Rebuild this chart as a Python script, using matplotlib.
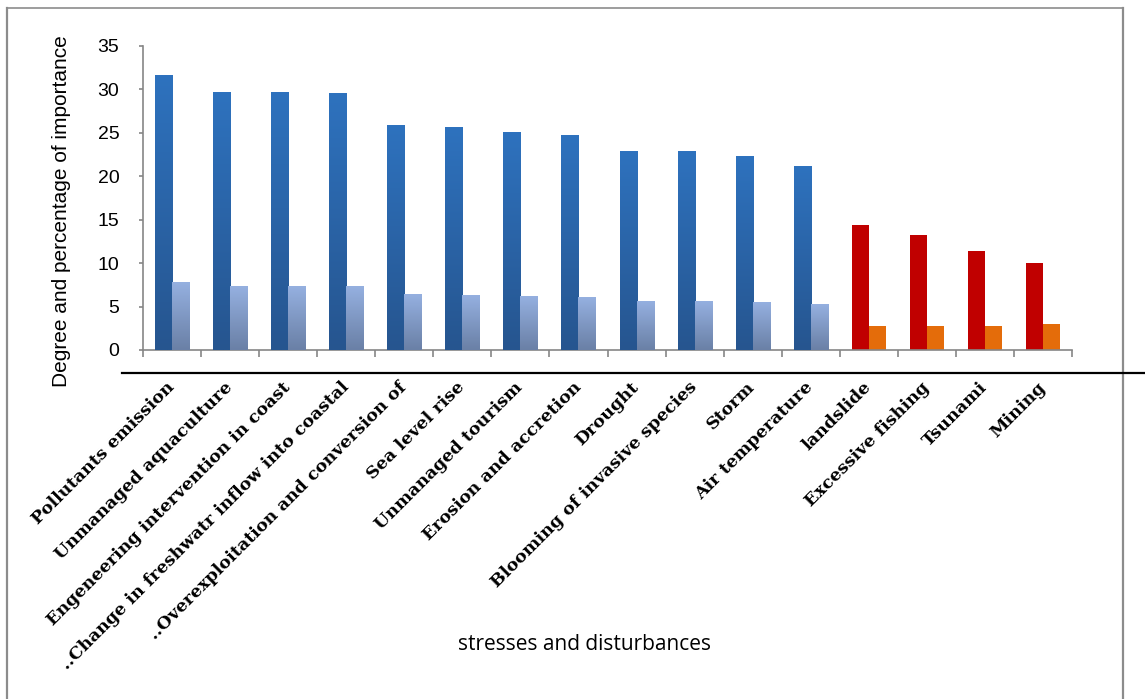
import numpy as np
import matplotlib.pyplot as plt
from matplotlib.lines import Line2D
from matplotlib.colors import LinearSegmentedColormap

categories = [
    "Pollutants emission",
    "Unmanaged aquaculture",
    "Engeneering intervention in coast",
    "..Change in freshwatr inflow into coastal",
    "..Overexploitation and conversion of",
    "Sea level rise",
    "Unmanaged tourism",
    "Erosion and accretion",
    "Drought",
    "Blooming of invasive species",
    "Storm",
    "Air temperature",
    "landslide",
    "Excessive fishing",
    "Tsunami",
    "Mining",
]
degree = [31.6, 29.7, 29.7, 29.5, 25.85, 25.6, 25.05, 24.7,
          22.85, 22.85, 22.3, 21.1, 14.4, 13.2, 11.4, 10.0]
percent = [7.75, 7.3, 7.3, 7.3, 6.37, 6.3, 6.18, 6.06,
           5.56, 5.56, 5.49, 5.2, 2.76, 2.76, 2.76, 3.03]
n_high = 12  # first 12 are drawn blue, the rest red/orange

W, H = 1145, 699
fig = plt.figure(figsize=(W / 100, H / 100), dpi=100)
ax = fig.add_axes([143 / W, 1 - 350 / H, (1072 - 143) / W, (350 - 46) / H])

x = np.arange(len(categories))
w = 0.293
dark = ["#2D67AC" if i < n_high else "#C00000" for i in x]
light = ["#8BA2CE" if i < n_high else "#E46C0A" for i in x]
bars_d = ax.bar(x - w / 2, degree, width=w, color=dark, zorder=2)
bars_l = ax.bar(x + w / 2, percent, width=w, color=light, zorder=2)

# vertical shading on the blue bars
cm_dark = LinearSegmentedColormap.from_list("d", ["#26558F", "#2E72BE"])
cm_light = LinearSegmentedColormap.from_list("l", ["#6A80A6", "#95B0E0"])
grad = np.linspace(1, 0, 128).reshape(-1, 1)
for bars, cm in [(bars_d, cm_dark), (bars_l, cm_light)]:
    for b in bars[:n_high]:
        x0, y0 = b.get_xy()
        ax.imshow(grad, extent=[x0, x0 + b.get_width(), y0, y0 + b.get_height()],
                  aspect="auto", cmap=cm, zorder=3, interpolation="bilinear")

ax.set_xlim(-0.5, len(categories) - 0.5)
ax.set_ylim(0, 35)
ax.set_yticks(range(0, 36, 5))

for s in ["top", "right"]:
    ax.spines[s].set_visible(False)
for s in ["left", "bottom"]:
    ax.spines[s].set_color("#868686")
    ax.spines[s].set_linewidth(1.2)

ax.tick_params(axis="y", colors="#868686", length=3, width=1.2, labelsize=14,
               labelcolor="black", pad=14)
for t in ax.get_yticklabels():
    t.set_fontfamily("Liberation Sans")

ax.set_xticks(x)
ax.set_xticklabels(categories, rotation=45, ha="right", va="center",
                   rotation_mode="anchor", fontfamily="DejaVu Serif",
                   fontweight="bold", fontsize=12.6)
ax.tick_params(axis="x", which="major", length=0, pad=25)
ax.set_xticks(np.arange(-0.5, len(categories), 1), minor=True)
ax.tick_params(axis="x", which="minor", length=5, width=1.2, colors="#868686")

fig.text(62 / W, 1 - 211 / H, "Degree and percentage of importance",
         rotation=90, ha="center", va="center", fontsize=15,
         fontfamily="Liberation Sans")
fig.text(585 / W, 1 - 645 / H, "stresses and disturbances",
         ha="center", va="center", fontsize=15, fontfamily="Open Sans")

# outer frame and the black rule under the axis
gray = "#8C8C8C"
fig.add_artist(Line2D([7 / W, 7 / W], [0, 1 - 8 / H], color=gray, lw=1.6))
fig.add_artist(Line2D([7 / W, 1123 / W], [1 - 8 / H, 1 - 8 / H], color=gray, lw=1.2))
fig.add_artist(Line2D([1123 / W, 1123 / W], [0, 1 - 8 / H], color=gray, lw=1.6))
fig.add_artist(Line2D([122 / W, 1], [1 - 372.5 / H, 1 - 372.5 / H], color="black", lw=1.6))

fig.savefig("out.png", dpi=100)
